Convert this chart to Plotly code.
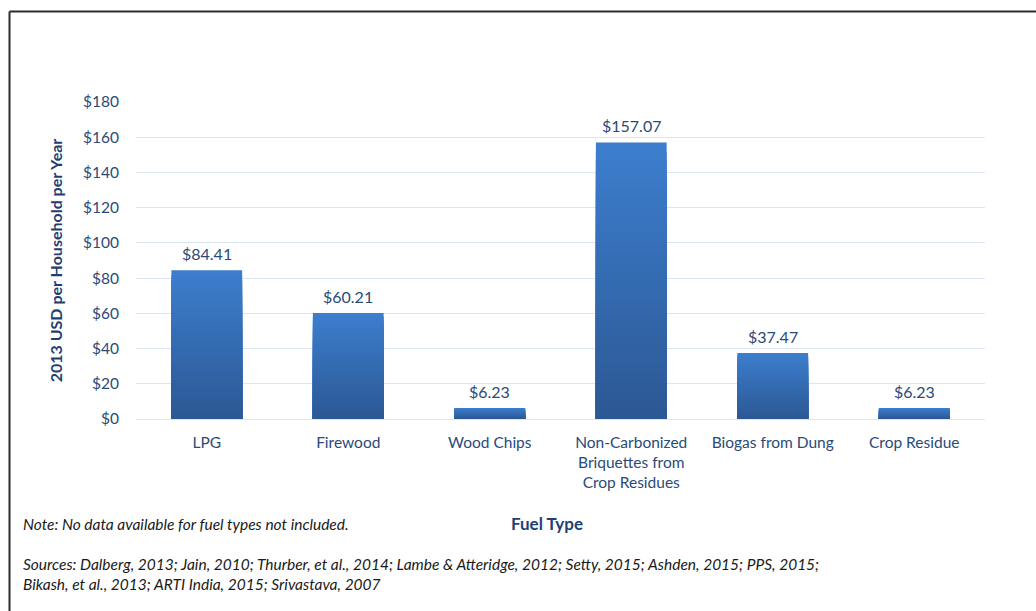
import plotly.graph_objects as go

# Household fuel cost data
fuel_types = [
    "LPG",
    "Firewood",
    "Wood Chips",
    "Non-Carbonized<br>Briquettes from<br>Crop Residues",
    "Biogas from Dung",
    "Crop Residue",
]
cost_usd = [84.41, 60.21, 6.23, 157.07, 37.47, 6.23]
value_labels = ["$84.41", "$60.21", "$6.23", "$157.07", "$37.47", "$6.23"]
y_ticks = [0, 20, 40, 60, 80, 100, 120, 140, 160, 180]

FONT = "Lato, 'Open Sans', sans-serif"
TEXT_BLUE = "#2A4A78"
TITLE_BLUE = "#1F3F73"

# vertical gradient for each bar: bottom (dark) -> top (light).
# Nested bars, tallest (lightest) first, so every band overlaps the next
# and no seams appear between them.
bottom_rgb = (44, 88, 148)
top_rgb = (60, 126, 206)
n_slices = 30

fig = go.Figure()
for k in range(n_slices):
    frac = (n_slices - k) / n_slices
    t = (n_slices - k - 0.5) / n_slices
    r, g, b = (round(bottom_rgb[i] + (top_rgb[i] - bottom_rgb[i]) * t) for i in range(3))
    fig.add_trace(go.Bar(
        x=fuel_types,
        y=[v * frac for v in cost_usd],
        marker=dict(color=f"rgb({r},{g},{b})", line=dict(width=0)),
        width=0.5,
        hoverinfo="skip",
        showlegend=False,
    ))

# plot area spans px 136..985 horizontally and 102..419 vertically
L, R, T, B = 136, 985, 102, 419
W, H = 1036, 611


def px_x(px):
    return (px - L) / (R - L)


def px_y(py):
    return (B - py) / (B - T)


# value labels above the bars
value_annotations = [
    dict(x=cat, y=v, xref="x", yref="y", text=lab, showarrow=False,
         xanchor="center", yanchor="bottom", yshift=5,
         font=dict(family=FONT, size=16, color=TEXT_BLUE))
    for cat, v, lab in zip(fuel_types, cost_usd, value_labels)
]

fig.update_layout(
    width=W,
    height=H,
    margin=dict(l=L, r=W - R, t=T, b=H - B),
    paper_bgcolor="white",
    plot_bgcolor="white",
    barmode="overlay",
    font=dict(family=FONT, color=TEXT_BLUE, size=15),
    xaxis=dict(
        showgrid=False,
        showline=False,
        ticks="",
        ticklabelstandoff=12,
        tickfont=dict(family=FONT, size=15.5, color=TEXT_BLUE),
        range=[-0.5, 5.5],
        fixedrange=True,
    ),
    yaxis=dict(
        range=[0, 180],
        tickvals=y_ticks,
        ticktext=[f"${v}" for v in y_ticks],
        showgrid=True,
        gridcolor="#DCE6F2",
        gridwidth=1,
        zeroline=True,
        zerolinecolor="#DCE6F2",
        zerolinewidth=1,
        showline=False,
        ticks="",
        ticklabelstandoff=16,
        tickfont=dict(family=FONT, size=15.5, color=TEXT_BLUE),
        title=dict(
            text="<b>2013 USD per Household per Year</b>",
            font=dict(family=FONT, size=16, color=TITLE_BLUE),
            standoff=16,
        ),
        fixedrange=True,
    ),
    shapes=[
        # outer frame (left and top edges)
        dict(type="line", xref="paper", yref="paper",
             x0=px_x(9.5), x1=px_x(9.5), y0=px_y(11.5), y1=px_y(615),
             line=dict(color="#2B2B2B", width=2)),
        dict(type="line", xref="paper", yref="paper",
             x0=px_x(9.5), x1=px_x(1040), y0=px_y(11.5), y1=px_y(11.5),
             line=dict(color="#2B2B2B", width=2)),
    ],
    annotations=value_annotations + [
        dict(text="<b>Fuel Type</b>", xref="paper", yref="paper",
             x=px_x(547), y=px_y(523), xanchor="center", yanchor="middle",
             showarrow=False, font=dict(family=FONT, size=17, color=TITLE_BLUE)),
        dict(text="<i>Note: No data available for fuel types not included.</i>",
             xref="paper", yref="paper", x=px_x(21), y=px_y(524),
             xanchor="left", yanchor="middle", showarrow=False,
             font=dict(family=FONT, size=15.5, color="#1A1A1A")),
        dict(text="<i>Sources: Dalberg, 2013; Jain, 2010; Thurber, et al., 2014; Lambe &amp; Atteridge, 2012; "
                  "Setty, 2015; Ashden, 2015; PPS, 2015;<br>"
                  "Bikash, et al., 2013; ARTI India, 2015; Srivastava, 2007</i>",
             xref="paper", yref="paper", x=px_x(21), y=px_y(553),
             xanchor="left", yanchor="top", align="left", showarrow=False,
             font=dict(family=FONT, size=15.5, color="#1A1A1A")),
    ],
)

fig.write_html("out.html")
